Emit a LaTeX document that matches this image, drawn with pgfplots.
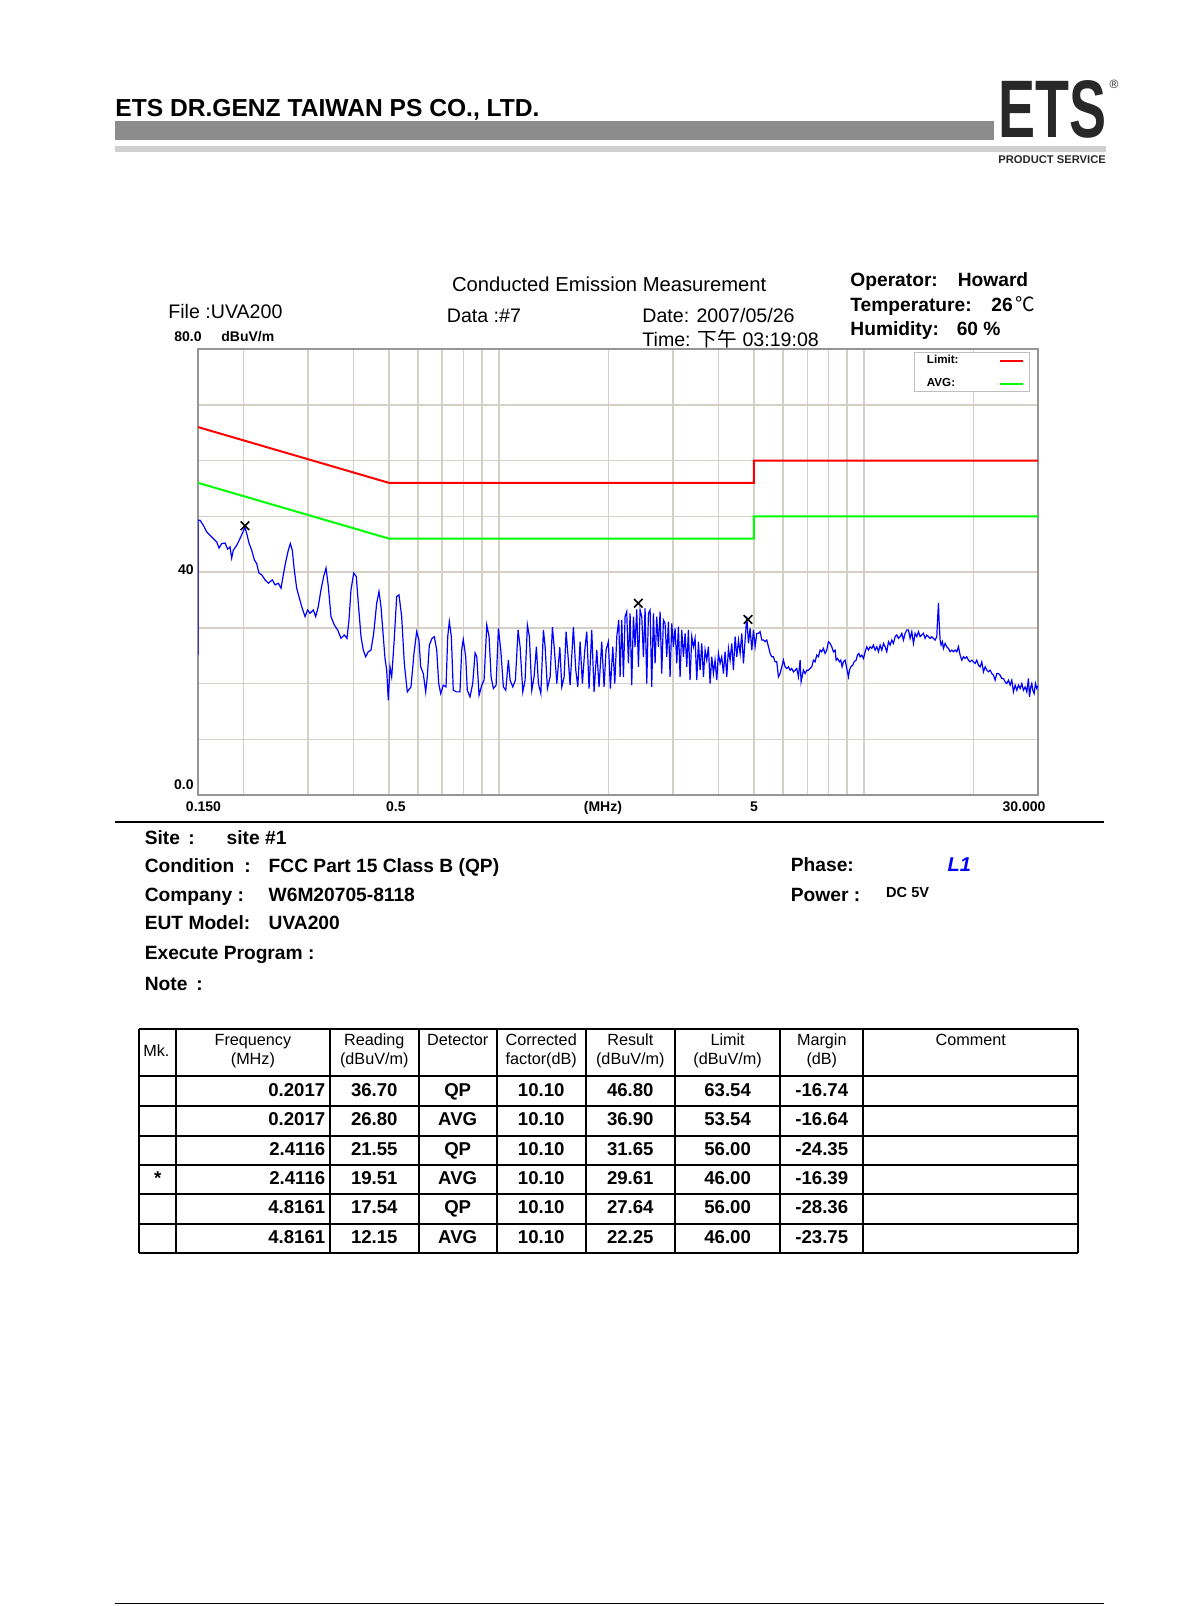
\documentclass[border=0pt]{standalone}
\usepackage{fontspec}
\setmainfont{Liberation Sans}
\newfontfamily\cjk{Noto Sans CJK TC}
\usepackage{pgfplots}
\pgfplotsset{compat=1.18}

\definecolor{gridc}{RGB}{212,208,200}
\definecolor{framec}{RGB}{150,150,150}
\definecolor{bardark}{RGB}{140,140,140}
\definecolor{barlight}{RGB}{208,208,208}
\definecolor{logoc}{RGB}{40,40,40}
\definecolor{limred}{RGB}{255,0,0}
\definecolor{avggreen}{RGB}{0,255,0}
\definecolor{tracec}{RGB}{0,0,255}

\newcommand\fs[1]{\fontsize{#1bp}{#1bp}\selectfont}

% one data row of the result table: y, mark, freq, reading, detector, corr, result, limit, margin
\newcommand\trow[9]{%
  \node[td] at (157.7,#1) {#2};
  \node[td,anchor=base east] at (325.6,#1) {#3};
  \node[td] at (374.3,#1) {#4};
  \node[td] at (457.7,#1) {#5};
  \node[td] at (541.2,#1) {#6};
  \node[td] at (630.3,#1) {#7};
  \node[td] at (727.6,#1) {#8};
  \node[td] at (821.8,#1) {#9};
}

\begin{document}
\begin{tikzpicture}
\tikzset{
  lbl/.style={anchor=base west, inner sep=0pt, font=\fs{9.8}},
  blbl/.style={anchor=base west, inner sep=0pt, font=\fs{9.6}\bfseries},
  th/.style={anchor=base, inner sep=0pt, font=\fs{8.1}},
  td/.style={anchor=base, inner sep=0pt, font=\fs{9.3}\bfseries},
}
% page in pixel units, y downwards
\begin{scope}[x=0.5bp,y=-0.5bp]
\fill[white] (0,0) rectangle (1190,1606);

% letter head
\node[anchor=base west, inner sep=0pt, font=\fs{12.3}\bfseries] at (115,116) {ETS DR.GENZ TAIWAN PS CO., LTD.};
\fill[bardark] (115,121) rectangle (994,139.5);
\fill[barlight] (115,145.5) rectangle (1106,151.5);
\node[anchor=south west, inner sep=0pt, text=logoc] at (998,139) {\resizebox{54bp}{28.5bp}{\bfseries ETS}};
\node[inner sep=0pt, font=\fs{6}, text=logoc] at (1114,84) {®};
\node[anchor=base west, inner sep=0pt, font=\fs{5.6}\bfseries, text=logoc] at (998,163) {PRODUCT SERVICE};

% chart heading
\node[lbl, font=\fs{10.1}] at (451.6,291.8) {Conducted Emission Measurement};
\node[lbl] at (168,318.5) {File :UVA200};
\node[lbl] at (446.5,322.6) {Data :\#7};
\node[lbl] at (642,322.6) {Date: 2007/05/26};
\node[lbl] at (642,346) {Time: {\cjk 下午} 03:19:08};
\node[blbl] at (850,286.7) {Operator:};
\node[blbl] at (957.4,286.7) {Howard};
\node[blbl] at (850,311.3) {Temperature:};
\node[blbl] at (991,311.3) {26};
\node[lbl] at (1015,311.3) {\cjk ℃};
\node[blbl] at (850,335.9) {Humidity:};
\node[blbl] at (956.4,335.9) {60 \%};

% test details
\draw[line width=1bp] (115,821.5) -- (1104,821.5);
\node[blbl] at (144.4,844.8) {Site};
\node[blbl] at (188,844.8) {:};
\node[blbl] at (226.3,844.8) {site \#1};
\node[blbl] at (144.4,872.4) {Condition};
\node[blbl] at (244,872.4) {:};
\node[blbl] at (268.3,872.4) {FCC Part 15 Class B (QP)};
\node[blbl] at (144.4,901.1) {Company :};
\node[blbl] at (268.3,901.1) {W6M20705-8118};
\node[blbl] at (144.4,929.8) {EUT Model:};
\node[blbl] at (268.3,929.8) {UVA200};
\node[blbl] at (144.4,959.5) {Execute Program :};
\node[blbl] at (144.4,990.2) {Note};
\node[blbl] at (196,990.2) {:};
\node[blbl] at (790.5,871.4) {Phase:};
\node[blbl, font=\fs{10}\bfseries\itshape, text=tracec] at (947.2,871.4) {L1};
\node[blbl] at (790.5,901.1) {Power :};
\node[blbl, font=\fs{7.3}\bfseries] at (885.8,897) {DC 5V};

% result table
\begin{scope}[line width=1bp]
\foreach \yy in {1029.1,1076.2,1105.9,1135.6,1165.3,1194,1223.7,1253.4}
  \draw (139.3,\yy) -- (1078.3,\yy);
\foreach \xx in {139.3,176.1,329.7,418.8,496.6,585.7,674.8,780.3,863.2,1078.3}
  \draw (\xx,1029.1) -- (\xx,1253.4);
\end{scope}
\node[th, anchor=base west] at (143,1056) {Mk.};
\node[th] at (252.9,1045.5) {Frequency};
\node[th] at (252.9,1064) {(MHz)};
\node[th] at (374.3,1045.5) {Reading};
\node[th] at (374.3,1064) {(dBuV/m)};
\node[th] at (457.7,1045.5) {Detector};
\node[th] at (541.2,1045.5) {Corrected};
\node[th] at (541.2,1064) {factor(dB)};
\node[th] at (630.3,1045.5) {Result};
\node[th] at (630.3,1064) {(dBuV/m)};
\node[th] at (727.6,1045.5) {Limit};
\node[th] at (727.6,1064) {(dBuV/m)};
\node[th] at (821.8,1045.5) {Margin};
\node[th] at (821.8,1064) {(dB)};
\node[th] at (970.8,1045.5) {Comment};
\trow{1096}{}{0.2017}{36.70}{QP}{10.10}{46.80}{63.54}{-16.74}
\trow{1125.8}{}{0.2017}{26.80}{AVG}{10.10}{36.90}{53.54}{-16.64}
\trow{1155.5}{}{2.4116}{21.55}{QP}{10.10}{31.65}{56.00}{-24.35}
\trow{1184.7}{*}{2.4116}{19.51}{AVG}{10.10}{29.61}{46.00}{-16.39}
\trow{1213.9}{}{4.8161}{17.54}{QP}{10.10}{27.64}{56.00}{-28.36}
\trow{1243.6}{}{4.8161}{12.15}{AVG}{10.10}{22.25}{46.00}{-23.75}

\draw[line width=0.6bp] (115,1603.5) -- (1104,1603.5);
\end{scope}

\begin{axis}[
  at={(99bp,-397.5bp)}, anchor=south west,
  scale only axis, width=420bp, height=223bp,
  xmode=log, xmin=0.15, xmax=30, ymin=0, ymax=80,
  xtick={0.15,0.5,5,30},
  xticklabels={\hspace*{5.5bp}0.150, \hspace*{7bp}0.5, 5, 30.000\hspace*{14bp}},
  minor xtick={0.2,0.3,0.4,0.6,0.7,0.8,0.9,1,2,3,4,6,7,8,9,10,20},
  ytick={0,40,80},
  yticklabels={\raisebox{3bp}{0.0}, \raisebox{-1bp}{40}, \raisebox{3.7bp}{80.0\hspace*{-4bp}}},
  minor ytick={10,20,30,50,60,70},
  grid=both,
  major grid style={gridc, line width=0.75bp},
  minor grid style={gridc, line width=0.75bp},
  major tick length=0pt, minor tick length=0pt,
  axis line style={framec, line width=1bp},
  /pgf/number format/assume math mode=true,
  tick label style={font=\fs{7}\bfseries, inner sep=0pt},
  xticklabel style={anchor=base, yshift=-8.25bp},
  yticklabel style={anchor=base east, xshift=-2bp},
  xlabel={(MHz)}, ylabel={dBuV/m},
  every axis x label/.style={at={(rel axis cs:0.482,0)}, anchor=base, inner sep=0pt, yshift=-8.25bp, font=\fs{7}\bfseries},
  every axis y label/.style={at={(rel axis cs:0,1)}, anchor=base west, inner sep=0pt, xshift=11.5bp, yshift=3.7bp, font=\fs{7}\bfseries},
  legend plot pos=right,
  legend cell align=left,
  legend image code/.code={\draw[#1, line width=1bp] (0bp,0bp) -- (11.5bp,0bp);},
  legend style={at={(rel axis cs:0.991,0.993)}, anchor=north east,
    draw=black!25, line width=0.5bp, fill=white,
    inner xsep=3bp, inner ysep=0pt, row sep=3.5bp,
    font=\fs{5.8}\bfseries,
    nodes={inner xsep=3bp, inner ysep=0pt, minimum height=8bp, text width=33bp, align=left}},
]
\addplot[limred, line width=1bp] coordinates {(0.15,66) (0.5,56) (5,56) (5,60) (30,60)};
\addlegendentry{Limit:}
\addplot[avggreen, line width=1bp] coordinates {(0.15,56) (0.5,46) (5,46) (5,50) (30,50)};
\addlegendentry{AVG:}

\addplot[tracec, line width=0.6bp, forget plot] table {
f dB
0.1500 25.1
0.1500 49.3
0.1519 49.3
0.1551 48.4
0.1585 47.2
0.1618 46.6
0.1652 46.0
0.1688 45.4
0.1713 44.3
0.1742 45.1
0.1779 45.2
0.1809 44.1
0.1836 44.5
0.1855 42.5
0.1874 43.9
0.1915 44.8
0.1955 46.0
0.2017 48.0
0.2040 46.9
0.2069 45.2
0.2105 43.9
0.2140 42.2
0.2172 41.5
0.2204 39.8
0.2242 39.5
0.2289 38.6
0.2337 38.0
0.2397 38.6
0.2438 37.7
0.2489 38.0
0.2532 37.1
0.2569 39.5
0.2608 41.8
0.2651 43.9
0.2685 45.1
0.2719 43.9
0.2753 40.4
0.2795 37.1
0.2836 35.6
0.2885 33.8
0.2946 32.0
0.2996 33.2
0.3040 32.6
0.3104 33.2
0.3151 32.0
0.3203 33.8
0.3258 36.8
0.3314 39.2
0.3364 40.7
0.3413 37.4
0.3471 32.0
0.3544 30.5
0.3621 29.6
0.3697 28.1
0.3775 28.7
0.3839 28.1
0.3888 31.4
0.3937 36.8
0.4005 39.8
0.4071 39.2
0.4123 34.4
0.4194 28.4
0.4255 26.0
0.4319 24.8
0.4391 25.7
0.4466 26.0
0.4543 29.0
0.4630 34.4
0.4697 36.5
0.4757 33.8
0.4827 28.4
0.4879 24.5
0.4931 22.4
0.4981 17.0
0.5035 23.0
0.5089 21.2
0.5164 27.2
0.5252 35.6
0.5329 35.9
0.5420 32.0
0.5511 23.6
0.5615 18.5
0.5748 19.4
0.5858 25.4
0.5958 29.3
0.6045 27.8
0.6111 23.0
0.6212 21.8
0.6307 18.5
0.6371 21.2
0.6453 26.9
0.6564 28.1
0.6660 28.4
0.6761 26.0
0.6847 20.0
0.6934 18.2
0.7049 19.7
0.7170 19.4
0.7247 28.4
0.7321 31.1
0.7414 28.4
0.7506 18.8
0.7669 18.5
0.7831 18.5
0.7914 26.0
0.7994 27.9
0.8117 24.8
0.8199 18.8
0.8340 17.6
0.8483 20.0
0.8611 25.5
0.8704 24.8
0.8831 17.9
0.8983 19.7
0.9114 20.6
0.9271 30.5
0.9406 28.4
0.9526 21.2
0.9665 19.1
0.9831 19.7
0.9975 29.9
1.0127 26.0
1.0294 19.4
1.0451 18.8
1.0624 24.2
1.0739 20.6
1.0923 19.4
1.1104 20.6
1.1295 29.6
1.1439 26.6
1.1635 18.5
1.1804 20.6
1.1977 30.5
1.2130 28.4
1.2314 18.8
1.2494 21.2
1.2677 26.6
1.2838 20.0
1.3037 18.2
1.3252 29.6
1.3395 26.6
1.3591 19.1
1.3824 21.2
1.4026 30.1
1.4204 26.0
1.4421 20.0
1.4697 26.5
1.4883 19.4
1.5100 21.2
1.5290 29.3
1.5483 24.8
1.5680 19.7
1.6010 30.1
1.6254 22.4
1.6461 19.4
1.6701 27.5
1.6946 20.0
1.7201 26.0
1.7419 29.3
1.7674 19.1
1.7977 29.6
1.8240 18.5
1.8553 26.0
1.8824 19.4
1.9148 27.5
1.9428 19.4
1.9674 26.0
1.9962 27.5
2.0216 19.1
2.0524 26.6
2.0784 20.0
2.1048 28.4
2.1316 31.4
2.1492 21.2
2.172 31.4
2.195 21.2
2.218 32.0
2.241 32.9
2.265 23.6
2.289 32.6
2.313 19.7
2.338 32.0
2.362 26.6
2.387 33.3
2.413 23.0
2.438 33.2
2.464 32.0
2.490 24.8
2.516 33.5
2.543 20.0
2.570 32.6
2.597 33.2
2.624 19.4
2.652 32.6
2.680 23.6
2.708 32.0
2.737 26.6
2.766 32.9
2.795 21.8
2.825 31.4
2.854 30.8
2.885 24.8
2.915 31.1
2.946 21.2
2.977 30.8
3.009 26.6
3.040 29.9
3.073 23.6
3.105 30.2
3.138 21.2
3.171 29.6
3.205 24.8
3.239 29.0
3.273 23.0
3.307 29.6
3.342 20.6
3.378 28.4
3.413 26.6
3.449 28.1
3.486 20.6
3.523 27.5
3.560 22.4
3.598 27.2
3.636 21.2
3.674 26.0
3.713 24.2
3.752 26.6
3.792 20.0
3.832 24.8
3.872 21.8
3.913 24.2
3.955 20.6
3.996 25.4
4.039 23.6
4.081 24.8
4.124 21.8
4.168 25.7
4.212 21.2
4.257 26.3
4.302 24.2
4.347 27.2
4.393 22.4
4.440 28.4
4.487 24.8
4.534 27.8
4.582 25.4
4.630 29.0
4.679 23.6
4.729 27.8
4.779 32.0
4.829 27.2
4.880 29.9
4.932 26.0
4.984 29.6
5.037 26.6
5.090 29.0
5.144 29.0
5.198 29.3
5.253 27.8
5.309 27.8
5.365 27.5
5.421 27.8
5.479 26.6
5.537 25.4
5.595 24.8
5.654 24.8
5.714 23.9
5.774 23.9
5.835 21.2
5.897 21.8
5.959 23.0
6.022 24.2
6.086 23.0
6.150 22.7
6.215 23.0
6.281 22.4
6.347 22.7
6.414 22.1
6.482 22.4
6.550 22.7
6.620 21.2
6.690 24.2
6.732 20.3
6.832 22.4
6.904 21.8
6.977 22.4
7.050 22.4
7.125 22.7
7.200 23.0
7.276 24.2
7.353 23.9
7.431 25.1
7.509 24.8
7.589 26.0
7.669 25.7
7.750 26.3
7.832 25.4
7.915 26.0
7.998 27.5
8.083 27.2
8.168 26.6
8.254 25.7
8.342 26.0
8.395 24.2
8.465 24.5
8.573 23.9
8.645 24.2
8.718 23.0
8.792 23.9
8.885 24.2
8.979 22.7
9.074 21.2
9.131 22.4
9.209 23.0
9.326 23.3
9.405 23.9
9.524 24.2
9.605 25.1
9.686 25.4
9.768 24.8
9.872 25.1
9.976 24.5
10.081 25.7
10.188 26.6
10.295 26.0
10.404 26.6
10.514 26.3
10.625 26.9
10.737 26.0
10.851 26.6
10.966 25.7
11.081 26.9
11.199 26.0
11.317 27.2
11.436 26.6
11.557 25.7
11.679 27.5
11.803 26.9
11.927 27.8
12.053 27.2
12.181 28.4
12.310 28.7
12.440 28.1
12.571 28.4
12.704 29.0
12.838 27.8
12.974 29.0
13.111 29.6
13.249 29.6
13.389 28.1
13.531 29.3
13.674 27.2
13.818 29.0
13.964 28.4
14.112 29.3
14.261 28.4
14.411 28.7
14.564 29.0
14.718 28.1
14.873 28.7
15.030 28.4
15.189 28.1
15.350 28.4
15.512 28.1
15.676 27.8
15.842 28.4
15.908 31.1
16.009 34.4
16.077 31.1
16.178 27.8
16.280 26.9
16.418 27.5
16.522 26.3
16.697 27.2
16.873 26.6
17.052 26.3
17.232 25.7
17.414 26.0
17.598 25.7
17.784 26.0
17.972 25.7
18.162 26.6
18.354 25.1
18.548 24.2
18.744 24.8
18.942 24.5
19.142 24.8
19.344 24.2
19.548 23.9
19.755 24.2
19.964 23.9
20.175 23.6
20.388 24.2
20.604 23.3
20.821 23.0
21.041 23.9
21.264 22.1
21.488 23.0
21.715 22.4
21.945 22.1
22.177 22.4
22.411 21.8
22.648 21.5
22.887 20.6
23.129 21.8
23.373 21.8
23.620 21.5
23.870 20.9
24.122 20.9
24.377 20.3
24.635 20.0
24.895 20.6
25.158 19.7
25.424 20.6
25.693 18.5
25.964 19.7
26.239 18.8
26.516 19.7
26.796 19.1
27.079 20.0
27.366 18.8
27.655 19.4
27.947 18.5
28.242 20.9
28.421 17.6
28.661 19.4
28.843 20.0
29.026 18.8
29.271 18.2
29.518 20.0
29.767 19.1
30.000 19.6
};

% marker positions
\addplot[black, only marks, mark=x, mark size=3bp, line width=0.8bp, forget plot]
  coordinates {(0.2017,48.3) (2.4116,34.4) (4.8161,31.5)};
\end{axis}
\end{tikzpicture}
\end{document}
